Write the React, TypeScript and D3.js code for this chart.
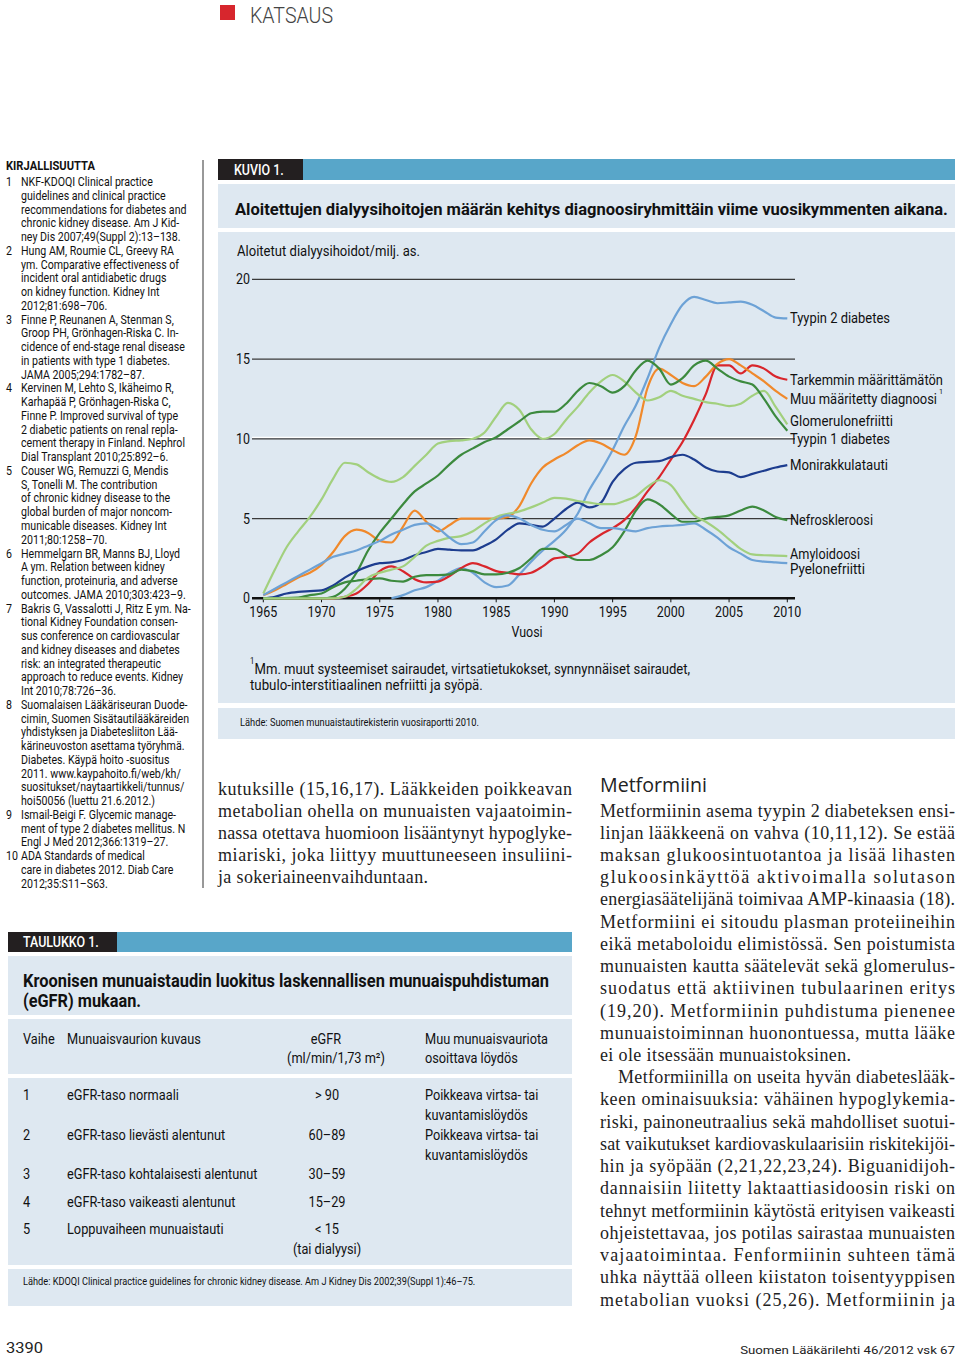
import React, { useLayoutEffect, useRef, useState } from 'react';
import * as d3 from 'd3';

type Pt = [number, number];

// ---------- DATA ----------
const xTickYears = [1965, 1970, 1975, 1980, 1985, 1990, 1995, 2000, 2005, 2010];
const yTickValues = [0, 5, 10, 15, 20];

const tyypin2Diabetes: Pt[] = [
  [1976, 0], [1977, 0.2], [1978, 0.5], [1979, 0.7], [1980, 1.1], [1981, 1.6], [1982, 1.9], [1983, 1.6],
  [1984, 1.0], [1985, 0.7], [1986, 0.8], [1987, 1.5], [1988, 2.3], [1989, 3.0], [1990, 3.6], [1991, 4.3],
  [1992, 5.3], [1993, 6.8], [1994, 8.0], [1995, 9.3], [1996, 10.8], [1997, 12.1], [1998, 13.8], [1999, 15.7],
  [2000, 17.2], [2001, 18.4], [2002, 18.9], [2003, 18.7], [2004, 18.5], [2005, 18.55], [2006, 18.6],
  [2007, 18.4], [2008, 18.0], [2009, 17.6], [2010, 17.55],
];
const tarkemminMaarittamaton: Pt[] = [
  [1965, 0], [1971, 0], [1972, 0.1], [1973, 0.3], [1974, 0.9], [1975, 1.7], [1976, 2.0], [1977, 1.7],
  [1978, 1.2], [1979, 1.0], [1980, 1.05], [1981, 1.4], [1982, 1.9], [1983, 2.2], [1984, 2.0], [1985, 1.7],
  [1986, 1.6], [1987, 1.5], [1988, 1.6], [1989, 2.0], [1990, 2.5], [1991, 2.6], [1992, 2.8], [1993, 3.5],
  [1994, 4.0], [1995, 4.4], [1996, 4.9], [1997, 5.7], [1998, 6.7], [1999, 7.6], [2000, 8.7], [2001, 9.8],
  [2002, 11.2], [2003, 12.8], [2004, 14.6], [2005, 14.6], [2006, 14.1], [2007, 14.6], [2008, 14.4],
  [2009, 13.9], [2010, 13.7],
];
const muuMaaritetty: Pt[] = [
  [1965, 0.2], [1966, 0.5], [1967, 0.9], [1968, 1.3], [1969, 1.6], [1970, 2.1], [1971, 2.9], [1972, 3.9],
  [1973, 4.3], [1974, 4.1], [1975, 3.6], [1976, 3.5], [1977, 4.5], [1978, 5.5], [1979, 4.8], [1980, 4.2],
  [1981, 4.6], [1982, 5.0], [1983, 5.0], [1984, 5.0], [1985, 5.0], [1986, 5.1], [1987, 5.8], [1988, 7.2],
  [1989, 8.2], [1990, 8.7], [1991, 9.1], [1992, 9.6], [1993, 9.9], [1994, 9.7], [1995, 9.3], [1996, 9.0],
  [1997, 10.2], [1998, 13.2], [1999, 14.4], [2000, 14.0], [2001, 13.5], [2002, 13.3], [2003, 13.9],
  [2004, 14.7], [2005, 15.0], [2006, 14.6], [2007, 14.1], [2008, 13.6], [2009, 13.0], [2010, 12.5],
];
const glomerulonefriitti: Pt[] = [
  [1965, 0.3], [1966, 1.8], [1967, 3.2], [1968, 4.2], [1969, 5.1], [1970, 6.2], [1971, 7.5], [1972, 8.5],
  [1973, 8.4], [1974, 7.9], [1975, 7.5], [1976, 7.3], [1977, 7.6], [1978, 8.3], [1979, 9.0], [1980, 9.7],
  [1981, 9.85], [1982, 9.9], [1983, 10.0], [1984, 10.4], [1985, 11.4], [1986, 12.25], [1987, 11.8],
  [1988, 10.6], [1989, 10.0], [1990, 10.3], [1991, 11.2], [1992, 12.0], [1993, 12.9], [1994, 13.6],
  [1995, 14.0], [1996, 13.6], [1997, 12.9], [1998, 12.4], [1999, 12.6], [2000, 13.0], [2001, 12.7],
  [2002, 12.5], [2003, 12.3], [2004, 12.2], [2005, 12.05], [2006, 12.2], [2007, 12.7], [2008, 13.0],
  [2009, 12.0], [2010, 10.9],
];
const tyypin1Diabetes: Pt[] = [
  [1965, 0], [1970, 0], [1971, 0.1], [1972, 0.6], [1973, 1.6], [1974, 3.0], [1975, 4.1], [1976, 5.0],
  [1977, 5.9], [1978, 6.7], [1979, 7.2], [1980, 7.7], [1981, 8.4], [1982, 9.0], [1983, 9.4], [1984, 9.8],
  [1985, 10.1], [1986, 10.6], [1987, 11.1], [1988, 11.6], [1989, 11.7], [1990, 11.7], [1991, 12.2],
  [1992, 13.0], [1993, 13.5], [1994, 13.3], [1995, 12.9], [1996, 13.3], [1997, 14.3], [1998, 14.9],
  [1999, 14.4], [2000, 13.4], [2001, 13.8], [2002, 14.6], [2003, 14.9], [2004, 14.4], [2005, 13.9],
  [2006, 13.6], [2007, 13.4], [2008, 12.5], [2009, 11.4], [2010, 10.5],
];
const monirakkulatauti: Pt[] = [
  [1965, 0], [1966, 0.1], [1967, 0.3], [1968, 0.4], [1969, 0.45], [1970, 0.5], [1971, 0.8], [1972, 1.3],
  [1973, 1.7], [1974, 2.0], [1975, 2.2], [1976, 2.25], [1977, 2.4], [1978, 2.7], [1979, 2.9], [1980, 3.1],
  [1981, 3.05], [1982, 3.0], [1983, 3.0], [1984, 3.3], [1985, 3.7], [1986, 4.3], [1987, 4.7], [1988, 4.6],
  [1989, 4.5], [1990, 5.0], [1991, 5.6], [1992, 6.0], [1993, 5.7], [1994, 6.0], [1995, 7.3], [1996, 8.1],
  [1997, 8.5], [1998, 8.55], [1999, 8.6], [2000, 8.85], [2001, 9.0], [2002, 8.7], [2003, 8.2], [2004, 7.95],
  [2005, 7.9], [2006, 7.6], [2007, 7.8], [2008, 8.0], [2009, 8.2], [2010, 8.35],
];
const nefroskleroosi: Pt[] = [
  [1965, 0], [1968, 0.05], [1969, 0.2], [1970, 0.3], [1971, 0.7], [1972, 1.0], [1973, 1.1], [1974, 1.2],
  [1975, 1.25], [1976, 1.1], [1977, 1.05], [1978, 1.35], [1979, 1.45], [1980, 1.45], [1981, 1.5],
  [1982, 1.8], [1983, 1.7], [1984, 1.5], [1985, 1.5], [1986, 1.6], [1987, 1.9], [1988, 2.5], [1989, 3.1],
  [1990, 3.1], [1991, 2.7], [1992, 2.4], [1993, 2.4], [1994, 2.7], [1995, 3.2], [1996, 4.2], [1997, 5.5],
  [1998, 6.2], [1999, 5.9], [2000, 5.3], [2001, 4.8], [2002, 4.8], [2003, 5.0], [2004, 5.1], [2005, 5.2],
  [2006, 5.5], [2007, 5.75], [2008, 5.5], [2009, 5.1], [2010, 4.9],
];
const amyloidoosi: Pt[] = [
  [1965, 0], [1971, 0], [1972, 0.1], [1973, 0.6], [1974, 1.3], [1975, 1.6], [1976, 1.8], [1977, 2.0],
  [1978, 2.6], [1979, 3.3], [1980, 3.6], [1981, 3.8], [1982, 3.9], [1983, 4.2], [1984, 4.7], [1985, 5.1],
  [1986, 5.3], [1987, 5.45], [1988, 5.7], [1989, 6.0], [1990, 6.3], [1991, 6.25], [1992, 6.1], [1993, 6.0],
  [1994, 5.9], [1995, 5.9], [1996, 6.1], [1997, 6.4], [1998, 7.0], [1999, 7.4], [2000, 7.1], [2001, 6.1],
  [2002, 5.2], [2003, 4.8], [2004, 4.3], [2005, 3.7], [2006, 3.1], [2007, 2.75], [2008, 2.7], [2009, 2.68],
  [2010, 2.65],
];
const pyelonefriitti: Pt[] = [
  [1965, 0.2], [1966, 0.6], [1967, 1.0], [1968, 1.4], [1969, 1.8], [1970, 2.2], [1971, 2.6], [1972, 2.8],
  [1973, 3.0], [1974, 3.3], [1975, 3.6], [1976, 4.0], [1977, 4.3], [1978, 4.6], [1979, 4.7], [1980, 4.4],
  [1981, 3.8], [1982, 3.4], [1983, 3.5], [1984, 4.2], [1985, 4.9], [1986, 5.2], [1987, 5.0], [1988, 4.6],
  [1989, 4.3], [1990, 4.2], [1991, 4.6], [1992, 5.0], [1993, 4.7], [1994, 4.4], [1995, 4.4], [1996, 4.3],
  [1997, 4.2], [1998, 4.4], [1999, 4.5], [2000, 4.55], [2001, 4.6], [2002, 4.7], [2003, 4.3], [2004, 3.8],
  [2005, 3.2], [2006, 2.8], [2007, 2.4], [2008, 2.3], [2009, 2.25], [2010, 2.2],
];

const seriesNames = [
  'Tyypin 2 diabetes', 'Tarkemmin määrittämätön', 'Muu määritetty diagnoosi', 'Glomerulonefriitti',
  'Tyypin 1 diabetes', 'Monirakkulatauti', 'Nefroskleroosi', 'Amyloidoosi', 'Pyelonefriitti',
];
const seriesData = [
  tyypin2Diabetes, tarkemminMaarittamaton, muuMaaritetty, glomerulonefriitti, tyypin1Diabetes,
  monirakkulatauti, nefroskleroosi, amyloidoosi, pyelonefriitti,
];

const refs: [string, string[]][] = [
  ['1', ['NKF-KDOQI Clinical practice', 'guidelines and clinical practice', 'recommendations for diabetes and', 'chronic kidney disease. Am J Kid-', 'ney Dis 2007;49(Suppl 2):13–138.']],
  ['2', ['Hung AM, Roumie CL, Greevy RA', 'ym. Comparative effectiveness of', 'incident oral antidiabetic drugs', 'on kidney function. Kidney Int', '2012;81:698–706.']],
  ['3', ['Finne P, Reunanen A, Stenman S,', 'Groop PH, Grönhagen-Riska C. In-', 'cidence of end-stage renal disease', 'in patients with type 1 diabetes.', 'JAMA 2005;294:1782–87.']],
  ['4', ['Kervinen M, Lehto S, Ikäheimo R,', 'Karhapää P, Grönhagen-Riska C,', 'Finne P. Improved survival of type', '2 diabetic patients on renal repla-', 'cement therapy in Finland. Nephrol', 'Dial Transplant 2010;25:892–6.']],
  ['5', ['Couser WG, Remuzzi G, Mendis', 'S, Tonelli M. The contribution', 'of chronic kidney disease to the', 'global burden of major noncom-', 'municable diseases. Kidney Int', '2011;80:1258–70.']],
  ['6', ['Hemmelgarn BR, Manns BJ, Lloyd', 'A ym. Relation between kidney', 'function, proteinuria, and adverse', 'outcomes. JAMA 2010;303:423–9.']],
  ['7', ['Bakris G, Vassalotti J, Ritz E ym. Na-', 'tional Kidney Foundation consen-', 'sus conference on cardiovascular', 'and kidney diseases and diabetes', 'risk: an integrated therapeutic', 'approach to reduce events. Kidney', 'Int 2010;78:726–36.']],
  ['8', ['Suomalaisen Lääkäriseuran Duode-', 'cimin, Suomen Sisätautilääkäreiden', 'yhdistyksen ja Diabetesliiton Lää-', 'kärineuvoston asettama työryhmä.', 'Diabetes. Käypä hoito -suositus', '2011. www.kaypahoito.fi/web/kh/', 'suositukset/naytaartikkeli/tunnus/', 'hoi50056 (luettu 21.6.2012.)']],
  ['9', ['Ismail-Beigi F. Glycemic manage-', 'ment of type 2 diabetes mellitus. N', 'Engl J Med 2012;366:1319–27.']],
  ['10', ['ADA Standards of medical', 'care in diabetes 2012. Diab Care', '2012;35:S11–S63.']],
];

const middleText = [
  'kutuksille (15,16,17). Lääkkeiden poikkeavan',
  'metabolian ohella on munuaisten vajaatoimin-',
  'nassa otettava huomioon lisääntynyt hypoglyke-',
  'miariski, joka liittyy muuttuneeseen insuliini-',
  'ja sokeriaineenvaihduntaan.',
];
const rightText = [
  'Metformiinin asema tyypin 2 diabeteksen ensi-',
  'linjan lääkkeenä on vahva (10,11,12). Se estää',
  'maksan glukoosintuotantoa ja lisää lihasten',
  'glukoosinkäyttöä aktivoimalla solutason',
  'energiasäätelijänä toimivaa AMP-kinaasia (18).',
  'Metformiini ei sitoudu plasman proteiineihin',
  'eikä metaboloidu elimistössä. Sen poistumista',
  'munuaisten kautta säätelevät sekä glomerulus-',
  'suodatus että aktiivinen tubulaarinen eritys',
  '(19,20). Metformiinin puhdistuma pienenee',
  'munuaistoiminnan huonontuessa, mutta lääke',
  'ei ole itsessään munuaistoksinen.',
  'Metformiinilla on useita hyvän diabeteslääk-',
  'keen ominaisuuksia: vähäinen hypoglykemia-',
  'riski, painoneutraalius sekä mahdolliset suotui-',
  'sat vaikutukset kardiovaskulaarisiin riskitekijöi-',
  'hin ja syöpään (2,21,22,23,24). Biguanidijoh-',
  'dannaisiin liitetty laktaattiasidoosin riski on',
  'tehnyt metformiinin käytöstä erityisen vaikeasti',
  'ohjeistettavaa, jos potilas sairastaa munuaisten',
  'vajaatoimintaa. Fenformiinin suhteen tämä',
  'uhka näyttää olleen kiistaton toisentyyppisen',
  'metabolian vuoksi (25,26). Metformiinin ja',
];

const tableHeader = ['Vaihe', 'Munuaisvaurion kuvaus', 'eGFR', '(ml/min/1,73 m²)', 'Muu munuaisvauriota', 'osoittava löydös'];
const tableStages = ['1', '2', '3', '4', '5'];
const tableDescriptions = ['eGFR-taso normaali', 'eGFR-taso lievästi alentunut', 'eGFR-taso kohtalaisesti alentunut', 'eGFR-taso vaikeasti alentunut', 'Loppuvaiheen munuaistauti'];
const tableEgfr = ['> 90', '60–89', '30–59', '15–29', '< 15'];
const tableFindings = [['Poikkeava virtsa- tai', 'kuvantamislöydös'], ['Poikkeava virtsa- tai', 'kuvantamislöydös'], [], [], []];

// ---------- STYLE / LAYOUT ----------
const SANS = "Roboto, 'Noto Sans', sans-serif";
const SERIF = "'Liberation Serif', 'DejaVu Serif', serif";
const PANEL = '#dee8f1';
const BAR = '#58a6c9';
const TAB = '#231f20';
const INK = '#111';
const seriesColors = ['#6da2d6', '#d9262c', '#f0892b', '#a2d07e', '#3c8a3e', '#1d3d8f', '#3c8a3e', '#a2d07e', '#6da2d6'];
const labelNudge = [0, 0, 0, -3, 8, 0, 0, -2, 6];
const labelWidths = [100, 153, 147, 103, 100, 98, 83, 70, 75];

type TP = {
  x: number; y: number; s?: number; w?: number; sx?: number; anchor?: string; weight?: number;
  fill?: string; family?: string; adjust?: string; children: React.ReactNode;
};

// Text fitted to a given width by measuring and scaling horizontally (condensed look)
function Fit({ x, y, s = 14.5, w = 100, anchor = 'start', weight = 400, fill = INK, family = SANS, children }: TP) {
  const ref = useRef<SVGTextElement>(null);
  const [k, setK] = useState(0.86);
  useLayoutEffect(() => {
    if (ref.current) {
      const n = ref.current.getComputedTextLength();
      if (n > 0) setK(w / n);
    }
  }, [w, children]);
  return (
    <text ref={ref} transform={`translate(${x},${y}) scale(${k},1)`} fontSize={s} fontFamily={family}
      fontWeight={weight} fill={fill} textAnchor={anchor as any}>{children}</text>
  );
}

function T({ x, y, s = 14.5, w, sx = 0.86, anchor = 'start', weight = 400, fill = INK, family = SANS, adjust, children }: TP) {
  if (w && adjust === 'spacing') {
    return (
      <text x={x} y={y} fontSize={s} fontFamily={family} fontWeight={weight} fill={fill}
        textAnchor={anchor as any} textLength={w} lengthAdjust="spacing">{children}</text>
    );
  }
  if (w) {
    return <Fit x={x} y={y} s={s} w={w} anchor={anchor} weight={weight} fill={fill} family={family}>{children}</Fit>;
  }
  return (
    <text transform={`translate(${x},${y}) scale(${sx},1)`} fontSize={s} fontFamily={family}
      fontWeight={weight} fill={fill} textAnchor={anchor as any}>{children}</text>
  );
}

export default function App() {
  const x = d3.scaleLinear().domain([1965, 2010]).range([263.3, 787.3]);
  const y = d3.scaleLinear().domain([0, 20]).range([598.3, 279.3]);
  const line = d3.line<Pt>().x(d => x(d[0])).y(d => y(d[1])).curve(d3.curveMonotoneX);
  const gridX0 = 252;
  const gridX1 = 795;

  let refLine = 0;
  const refEls: React.ReactNode[] = [];
  refs.forEach(([num, lines]) => {
    lines.forEach((ln, i) => {
      const by = 186 + refLine * 13.76;
      if (i === 0) refEls.push(<T key={`n${num}`} x={6} y={by} s={12.5} sx={0.85}>{num}</T>);
      refEls.push(<T key={`r${num}-${i}`} x={21} y={by} s={12.5} sx={0.85}>{ln}</T>);
      refLine++;
    });
  });

  const rowY = [1095, 1135, 1174, 1202, 1229];
  const muuEndY = y(muuMaaritetty[muuMaaritetty.length - 1][1]);

  return (
    <svg width={960} height={1356} style={{ position: 'absolute', left: 0, top: 0, background: '#fff' }}>
      <rect x={0} y={0} width={960} height={1356} fill="#fff" />
      {/* header */}
      <rect x={220} y={5} width={15} height={15} fill="#d7262d" />
      <T x={250} y={23} s={22} w={83} weight={300} fill="#444">KATSAUS</T>

      {/* references */}
      <T x={6} y={170} s={13} sx={0.86} weight={700}>KIRJALLISUUTTA</T>
      {refEls}
      <line x1={203} x2={203} y1={160} y2={888} stroke="#333" strokeWidth={1} />

      {/* FIGURE */}
      <rect x={218} y={159} width={737} height={21} fill={BAR} />
      <rect x={218} y={159} width={85} height={21} fill={TAB} />
      <T x={234} y={175} s={14.5} sx={0.86} weight={500} fill="#fff">KUVIO 1.</T>
      <rect x={218} y={184} width={737} height={44} fill={PANEL} />
      <T x={235} y={215} s={17} w={713} weight={700}>Aloitettujen dialyysihoitojen määrän kehitys diagnoosiryhmittäin viime vuosikymmenten aikana.</T>
      <rect x={218} y={232} width={737} height={471} fill={PANEL} />
      <T x={237} y={256} s={14.5} w={183}>Aloitetut dialyysihoidot/milj. as.</T>

      {/* grid */}
      {yTickValues.map(v => (
        <g key={`g${v}`}>
          {v === 10 && <line x1={gridX0} x2={gridX1} y1={y(v) - 1.5} y2={y(v) - 1.5} stroke="#fff" strokeWidth={1.2} />}
          <line x1={gridX0} x2={gridX1} y1={y(v)} y2={y(v)} stroke={v === 0 ? '#111' : '#3a3a3a'} strokeWidth={v === 0 ? 2.6 : 1.2} />
          <T x={250} y={y(v) + 5} s={14.5} sx={0.86} anchor="end">{String(v)}</T>
        </g>
      ))}
      {xTickYears.map(t => (
        <g key={`t${t}`}>
          <line x1={x(t)} x2={x(t)} y1={y(0)} y2={y(0) + 4} stroke="#111" strokeWidth={1} />
          <T x={x(t)} y={617} s={14.5} sx={0.86} anchor="middle">{String(t)}</T>
        </g>
      ))}
      <T x={527} y={637} s={14.5} sx={0.86} anchor="middle">Vuosi</T>

      {/* lines */}
      {seriesData.map((d, i) => (
        <path key={`s${i}`} d={line(d) || ''} fill="none" stroke={seriesColors[i]} strokeWidth={2.2} strokeLinejoin="round" />
      ))}
      {seriesData.map((d, i) => {
        const last = d[d.length - 1];
        return (
          <T key={`l${i}`} x={790} y={y(last[1]) + 5 + labelNudge[i]} s={14.5} w={labelWidths[i]}>{seriesNames[i]}</T>
        );
      })}
      <T x={939} y={muuEndY - 5} s={8} sx={0.9}>1</T>

      {/* footnote */}
      <T x={250} y={664} s={8.5} sx={0.9}>1</T>
      <T x={254.5} y={674} s={14.5} w={436}>Mm. muut systeemiset sairaudet, virtsatietukokset, synnynnäiset sairaudet,</T>
      <T x={250} y={690} s={14.5} w={233}>tubulo-interstitiaalinen nefriitti ja syöpä.</T>

      <rect x={218} y={708} width={737} height={31} fill={PANEL} />
      <T x={240} y={726} s={10.5} w={239}>Lähde: Suomen munuaistautirekisterin vuosiraportti 2010.</T>

      {/* middle body text */}
      {middleText.map((ln, i) => {
        const last = i === middleText.length - 1;
        return (
          <T key={`m${i}`} x={218} y={794.5 + i * 22.2} s={18} family={SERIF} fill="#222"
            w={last ? 210 : 354} adjust="spacing">{ln}</T>
        );
      })}

      {/* right column */}
      <T x={600} y={792} s={20} w={107} family="'Open Sans', Roboto, sans-serif" fill="#222">Metformiini</T>
      {rightText.map((ln, i) => {
        const x0 = i === 12 ? 618 : 600;
        const w = i === 11 ? 251 : 955 - x0;
        return (
          <T key={`rt${i}`} x={x0} y={816.5 + i * 22.23} s={18} family={SERIF} fill="#222" w={w} adjust="spacing">{ln}</T>
        );
      })}

      {/* TABLE */}
      <rect x={8} y={932} width={564} height={20} fill={BAR} />
      <rect x={8} y={932} width={109} height={20} fill={TAB} />
      <T x={23} y={947} s={14.5} sx={0.86} weight={500} fill="#fff">TAULUKKO 1.</T>
      <rect x={8} y={956} width={564} height={59} fill={PANEL} />
      <T x={23} y={987} s={17.5} w={526} weight={700}>Kroonisen munuaistaudin luokitus laskennallisen munuaispuhdistuman</T>
      <T x={23} y={1007} s={17.5} w={118} weight={700}>(eGFR) mukaan.</T>
      <rect x={8} y={1019} width={564} height={55} fill={PANEL} />
      <T x={23} y={1044} s={14.5} sx={0.88}>{tableHeader[0]}</T>
      <T x={67} y={1044} s={14.5} sx={0.88}>{tableHeader[1]}</T>
      <T x={326} y={1044} s={14.5} sx={0.88} anchor="middle">{tableHeader[2]}</T>
      <T x={336} y={1063} s={14.5} sx={0.88} anchor="middle">{tableHeader[3]}</T>
      <T x={425} y={1044} s={14.5} sx={0.88}>{tableHeader[4]}</T>
      <T x={425} y={1063} s={14.5} sx={0.88}>{tableHeader[5]}</T>
      <rect x={8} y={1078} width={564} height={187} fill={PANEL} />
      {tableStages.map((st, i) => (
        <g key={`row${i}`}>
          <T x={23} y={rowY[i] + 5} s={14.5} sx={0.88}>{st}</T>
          <T x={67} y={rowY[i] + 5} s={14.5} sx={0.88}>{tableDescriptions[i]}</T>
          <T x={327} y={rowY[i] + 5} s={14.5} sx={0.88} anchor="middle">{tableEgfr[i]}</T>
          {tableFindings[i].map((p, j) => (
            <T key={`f${j}`} x={425} y={rowY[i] + 5 + j * 20} s={14.5} sx={0.88}>{p}</T>
          ))}
        </g>
      ))}
      <T x={327} y={1254} s={14.5} sx={0.88} anchor="middle">(tai dialyysi)</T>
      <rect x={8} y={1269} width={564} height={37} fill={PANEL} />
      <T x={23} y={1285} s={10.5} w={452}>Lähde: KDOQI Clinical practice guidelines for chronic kidney disease. Am J Kidney Dis 2002;39(Suppl 1):46–75.</T>

      {/* footer */}
      <T x={6} y={1353} s={15} w={37} fill="#222">3390</T>
      <T x={955} y={1354} s={11.5} w={215} anchor="end" fill="#222">Suomen Lääkärilehti 46/2012 vsk 67</T>
    </svg>
  );
}
